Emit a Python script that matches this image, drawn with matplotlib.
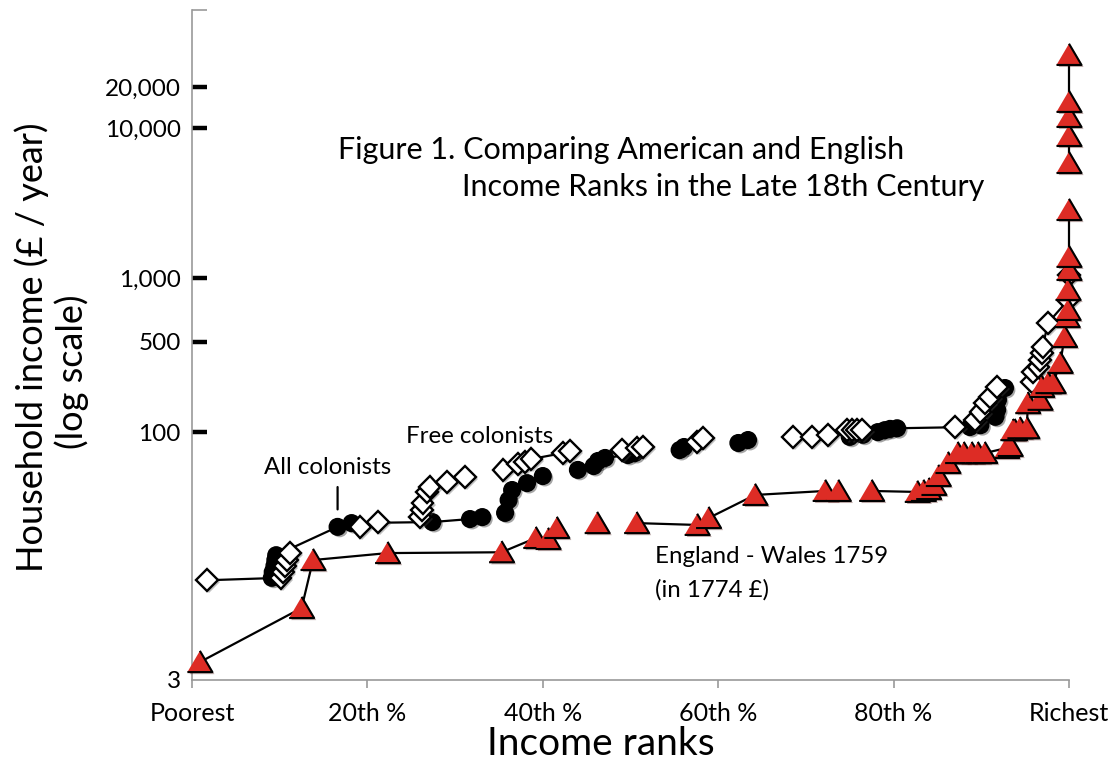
import numpy as np
import matplotlib
matplotlib.use("Agg")
import matplotlib.pyplot as plt
import matplotlib.patheffects as pe
from matplotlib.ticker import NullLocator

plt.rcParams['font.family'] = ['Lato', 'DejaVu Sans']

# Free colonists (white diamonds): income rank in %, income in pounds/year
free_rank = [1.7, 10.1, 10.4, 10.6, 10.8, 11.2, 19.2, 21.2, 26.0, 26.2, 26.3, 26.8, 27.1, 29.1, 31.1,
             35.5, 37.2, 38.0, 38.7, 42.3, 43.1, 49.0, 50.7, 51.4, 57.6, 58.3, 68.5, 70.7, 72.5, 74.7,
             75.3, 75.8, 76.4, 87.0, 89.3, 89.9, 90.4, 91.0, 91.8, 95.8, 95.9, 96.5, 96.7, 96.9, 97.0,
             97.6, 99.9, 100]
free_inc = [10.6, 11.0, 12.0, 13.2, 14.4, 16.0, 23.8, 25.6, 27.6, 30.7, 34.2, 40.4, 43.5, 47, 50.7,
            56.4, 61.7, 63.5, 66.5, 72.8, 75.1, 76.2, 78.6, 79.8, 86.1, 91.4, 92.9, 92.9, 95.7, 103,
            103, 103, 103, 108, 120, 136, 155, 170, 198, 214, 249, 268, 298, 331, 363,
            522, 740, 1080]
free_breaks = [5, 7, 14, 20, 23, 25, 32, 38]

# All colonists (black dots)
all_rank = [9.1, 9.2, 9.4, 9.5, 9.6, 16.6, 18.2, 27.4, 31.7, 33.1, 35.7, 36.1, 36.5, 38.2, 40.0,
            44.0, 45.8, 46.3, 47.1, 49.7, 50.5, 55.6, 56.1, 62.3, 63.4, 75.0, 76.5, 78.2, 79.0, 79.6,
            80.4, 88.7, 89.9, 91.6, 91.8, 91.9, 92.7]
all_inc = [11.0, 12.0, 13.2, 14.4, 15.5, 23.8, 25.2, 25.6, 26.8, 27.6, 29.4, 35.7, 41.6, 46.2, 51.4,
           56.4, 59.8, 64.6, 67.6, 70.7, 72.8, 76.2, 79.8, 84.8, 88.7, 93, 96, 100, 103, 105,
           106, 108, 111, 126, 140, 163, 195]
all_breaks = [9, 14, 20, 22, 24]

# England - Wales 1759 (red triangles)
eng_rank = [0.9, 12.5, 13.8, 22.3, 35.3, 39.2, 40.6, 41.6, 46.2, 50.7, 57.6, 58.9, 64.2, 72.2, 73.7,
            77.5, 82.7, 83.4, 84.0, 84.6, 85.1, 86.2, 87.3, 88.0, 88.9, 89.6, 90.4, 92.9, 93.3, 93.6,
            93.8, 94.4, 95.2, 95.3, 96.7, 96.9, 97.6, 98.2, 99.0, 99.5, 99.8, 99.9, 99.9,
            100, 100, 100, 100, 100, 100, 100, 100]
eng_inc = [3.07, 6.96, 14.4, 16.0, 16.2, 20.1, 19.8, 23.4, 25.2, 25.2, 24.5, 27.2, 38.6, 41, 41,
           41, 40.4, 41, 42.2, 44.9, 51.4, 62.6, 72.8, 72.8, 72.8, 72.8, 72.8, 78.6, 81, 103,
           103, 106, 106, 155, 163, 198, 210, 210, 285, 422, 571, 636, 861,
           1165, 1420, 2890, 5890, 8870, 11830, 14860, 30270]
eng_breaks = [7, 8, 14, 45]

# axis (the y tick marks sit where the original figure drew them)
y_tick_pos = [2.34, 100, 392, 1030, 10000, 18600]
y_tick_lab = ['3', '100', '500', '1,000', '10,000', '20,000']
x_tick_pos = [0, 20, 40, 60, 80, 100]
x_tick_lab = ['Poorest', '20th %', '40th %', '60th %', '80th %', 'Richest']
y_min, y_max = 2.34, 59800


def broken(x, y, breaks):
    xs, ys = [], []
    for i in range(len(x)):
        xs.append(x[i])
        ys.append(y[i])
        if i in breaks:
            xs.append(np.nan)
            ys.append(np.nan)
    return xs, ys


fig = plt.figure(figsize=(11.19, 7.69), dpi=100)
ax = fig.add_axes([192 / 1119, 89 / 769, 877 / 1119, 670 / 769])

shadow = [pe.SimplePatchShadow(offset=(1.5, -1.5), alpha=0.35), pe.Normal()]

for xr, yi, br in [(all_rank, all_inc, all_breaks), (free_rank, free_inc, free_breaks),
                   (eng_rank, eng_inc, eng_breaks)]:
    lx, ly = broken(xr, yi, br)
    ax.plot(lx, ly, color='black', lw=1.6, zorder=2, clip_on=False)

ax.plot(all_rank, all_inc, ls='none', marker='o', ms=12, mfc='black', mec='black',
        zorder=3, clip_on=False, path_effects=shadow)
ax.plot(free_rank, free_inc, ls='none', marker='D', ms=11, mfc='white', mec='black', mew=1.7,
        zorder=4, clip_on=False, path_effects=shadow)
tri = [(-1, -0.8), (1, -0.8), (0, 0.9)]
ax.plot(eng_rank, eng_inc, ls='none', marker=tri, ms=18, mfc='#dd2c25', mec='black', mew=1.5,
        zorder=5, clip_on=False, path_effects=shadow)

ax.set_yscale('log')
ax.set_xlim(0, 100)
ax.set_ylim(y_min, y_max)
ax.yaxis.set_minor_locator(NullLocator())
ax.set_yticks(y_tick_pos)
ax.set_yticklabels(y_tick_lab)
ax.set_yticks([y_max], minor=True)
ax.set_xticks(x_tick_pos)
ax.set_xticklabels(x_tick_lab)

for s in ['top', 'right']:
    ax.spines[s].set_visible(False)
for s in ['left', 'bottom']:
    ax.spines[s].set_color('#999999')
    ax.spines[s].set_linewidth(1.2)

ax.tick_params(axis='y', which='major', direction='in', length=11, width=3.2, color='black',
               labelsize=17.5, pad=8)
ax.tick_params(axis='y', which='minor', direction='in', length=11, width=1.2, color='#999999')
ax.tick_params(axis='x', direction='out', length=6, width=1.2, color='#999999',
               labelsize=18, pad=10)
ax.yaxis.get_major_ticks()[0].tick1line.set_visible(False)

fig.text(601 / 1119, 1 - 744 / 769, 'Income ranks', fontsize=28, ha='center', va='center')

fig.text(32 / 1119, 1 - 347 / 769, 'Household income (£ / year)', rotation=90,
         fontsize=26, ha='center', va='center')
fig.text(72 / 1119, 1 - 372 / 769, '(log scale)', rotation=90,
         fontsize=26, ha='center', va='center')

fig.text(338 / 1119, 1 - 150 / 769, 'Figure 1. Comparing American and English',
         fontsize=22, ha='left', va='center')
fig.text(462 / 1119, 1 - 187 / 769, 'Income Ranks in the Late 18th Century',
         fontsize=22, ha='left', va='center')

ax.text(32.8, 92.9, 'Free colonists', fontsize=17.3, ha='center', va='center')
ax.text(15.5, 58.9, 'All colonists', fontsize=17.3, ha='center', va='center')
ax.annotate('', xy=(16.6, 31), xytext=(16.6, 43.5),
            arrowprops=dict(arrowstyle='-', color='black', lw=1.6, shrinkA=0, shrinkB=0))
ax.text(52.8, 15.1, 'England - Wales 1759', fontsize=17.3, ha='left', va='center')
ax.text(52.8, 9.14, '(in 1774 £)', fontsize=17.3, ha='left', va='center')

fig.savefig('out.png', dpi=100)
